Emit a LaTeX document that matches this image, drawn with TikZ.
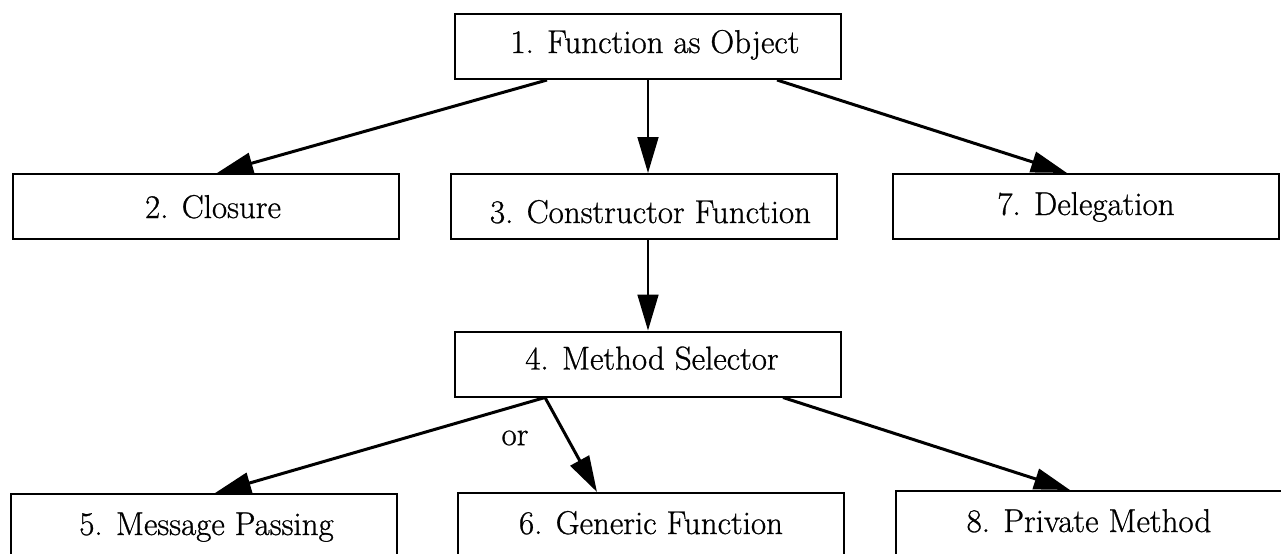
\documentclass[tikz,border=0pt]{standalone}
\usepackage{fontspec}
\newfontfamily\labfont{Latin Modern Roman}[FakeBold=0.8]
\usetikzlibrary{arrows.meta}
\begin{document}
\begin{tikzpicture}[x=0.5pt,y=-0.5pt,
  box/.style={draw,line width=1pt,minimum width=193pt,minimum height=32.5pt,inner sep=0pt,
    text height=12pt,text depth=3.5pt,font=\labfont\fontsize{16.5}{19}\selectfont},
  tip/.style={-{Triangle[length=18pt,width=10.5pt]}},
  thinarr/.style={tip,line width=0.85pt},
  thickarr/.style={tip,line width=1.5pt},
  lbl/.style={font=\labfont\fontsize{16.5}{19}\selectfont,inner sep=0pt}]
\useasboundingbox (0,0) rectangle (1281,553);
\clip (0,0) rectangle (1281,553);
\node[box] (n1) at (648,46.5) {\hspace*{7pt}\raisebox{1pt}{1. Function as Object}};
\node[box] (n2) at (206,206.5) {\hspace*{7pt}\raisebox{-1.5pt}{2. Closure}};
\node[box] (n3) at (643.5,206.5) {\hspace*{7pt}\raisebox{-4pt}{3. Constructor Function}};
\node[box] (n7) at (1086,206.5) {7. Delegation};
\node[box] (n4) at (648,364) {\hspace*{4pt}\raisebox{1.5pt}{4. Method Selector}};
\node[box] (n5) at (203.5,526.5) {\hspace*{3pt}5. Message Passing};
\node[box] (n6) at (651,525.5) {6. Generic Function};
\node[box] (n8) at (1089,523.5) {8. Private Method};
\node[lbl] (or) at (515,438) {or};
\draw[thickarr] ([xshift=-50.5pt]n1.south) -- ([xshift=5.5pt]n2.north);
\draw[thinarr] (n1.south) -- (n1.south |- n3.north);
\draw[thickarr] ([xshift=64.5pt]n1.south) -- ([xshift=-9.5pt]n7.north);
\draw[thinarr] (n4.north |- n3.south) -- (n4.north);
\draw[thickarr] ([xshift=-51.5pt]n4.south) -- ([xshift=5.75pt]n5.north);
\draw[thickarr] ([xshift=-51.5pt]n4.south) -- ([xshift=-27pt]n6.north);
\draw[thickarr] ([xshift=67.5pt]n4.south) -- ([xshift=-9.5pt]n8.north);
\end{tikzpicture}
\end{document}
